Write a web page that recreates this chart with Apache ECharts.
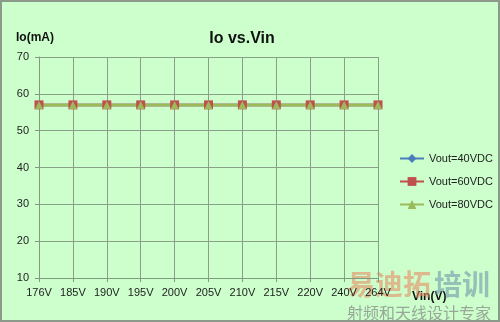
<!DOCTYPE html>
<html><head><meta charset="utf-8">
<script src="https://cdn.jsdelivr.net/npm/echarts@6/dist/echarts.min.js"></script>
<style>html,body{margin:0;padding:0;background:#ccffcc;}#c{width:500px;height:322px;box-sizing:border-box;border:2px solid #8c9a8c;}</style>
</head><body><div id="c"></div>
<script>
const categories = ['176V','185V','190V','195V','200V','205V','210V','215V','220V','240V','264V'];
const vout40 = [57,57,57,57,57,57,57,57,57,57,57];
const vout60 = [57,57,57,57,57,57,57,57,57,57,57];
const vout80 = [57,57,57,57,57,57,57,57,57,57,57];
const seriesNames = ['Vout=40VDC','Vout=60VDC','Vout=80VDC'];

const chart = echarts.init(document.getElementById('c'), null, {renderer:'canvas'});
const font = 'Liberation Sans, Arial, sans-serif';
chart.setOption({
  backgroundColor:'#ccffcc',
  animation:false,
  title:{text:'Io vs.Vin', left:235, top:24, textAlign:'center',
    textStyle:{fontFamily:font, fontSize:16, fontWeight:'bold', color:'#111'}},
  legend:{orient:'vertical', left:392, top:146, itemGap:12, itemWidth:24, itemHeight:11,
    textStyle:{fontFamily:font, fontSize:11, color:'#222'}, data:seriesNames},
  grid:{left:37, right:120, top:55, bottom:42},
  xAxis:{type:'category', data:categories, boundaryGap:false,
    axisLine:{lineStyle:{color:'#7f9a7f'}},
    axisTick:{show:true, length:4, alignWithLabel:true, lineStyle:{color:'#7f9a7f'}},
    axisLabel:{color:'#222', fontFamily:font, fontSize:11, margin:9},
    splitLine:{show:true, lineStyle:{color:'#87a087', width:1}}},
  yAxis:{type:'value', min:10, max:70, interval:10,
    axisLine:{show:true, lineStyle:{color:'#7f9a7f'}},
    axisTick:{show:true, length:4, lineStyle:{color:'#7f9a7f'}},
    axisLabel:{color:'#222', fontFamily:font, fontSize:11, margin:10},
    splitLine:{show:true, lineStyle:{color:'#87a087', width:1}}},
  graphic:[
    {type:'text', left:14, top:30, style:{text:'Io(mA)', fontFamily:font, fontSize:12, fontWeight:'bold', fill:'#111'}},
    {type:'text', left:410, top:289, style:{text:'Vin(V)', fontFamily:font, fontSize:12, fontWeight:'bold', fill:'#111'}},
    {type:'text', left:345, top:268, style:{text:'易迪拓', fontFamily:'Noto Sans CJK SC', fontSize:28, fontWeight:'bold', fill:'rgba(232,140,100,0.6)'}},
    {type:'text', left:432, top:268, style:{text:'培训', fontFamily:'Noto Sans CJK SC', fontSize:28, fontWeight:'bold', fill:'rgba(110,150,170,0.6)'}},
    {type:'text', left:345, top:303, style:{text:'射频和天线设计专家', fontFamily:'Noto Sans CJK SC', fontSize:16, fill:'rgba(130,130,130,0.7)'}}
  ],
  series:[
    {name:seriesNames[0], type:'line', data:vout40, symbol:'diamond', symbolSize:8,
      itemStyle:{color:'#4a7ebb'}, lineStyle:{color:'#4a7ebb', width:2.5}},
    {name:seriesNames[1], type:'line', data:vout60, symbol:'rect', symbolSize:9,
      itemStyle:{color:'#c0504d'}, lineStyle:{color:'#c0504d', width:2.5}},
    {name:seriesNames[2], type:'line', data:vout80, symbol:'triangle', symbolSize:8,
      itemStyle:{color:'#9bbb59'}, lineStyle:{color:'#9bbb59', width:2.5}}
  ]
});
</script></body></html>
